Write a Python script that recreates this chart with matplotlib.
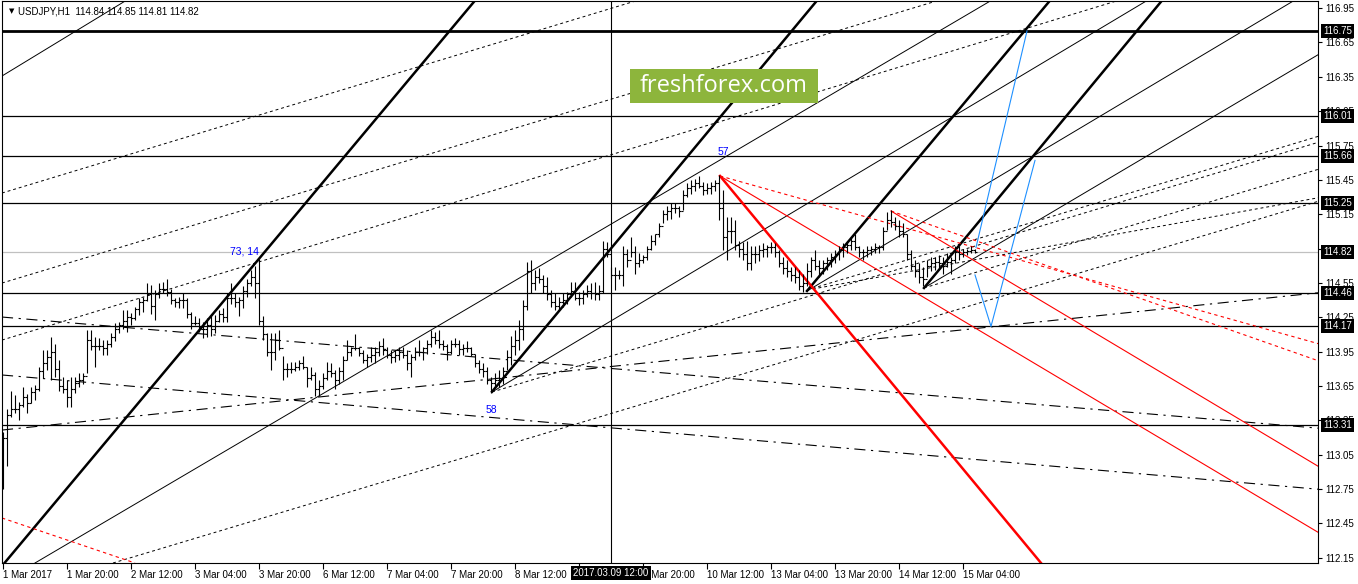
import matplotlib
matplotlib.use("Agg")
import matplotlib.pyplot as plt
import matplotlib.transforms as mtransforms
from matplotlib.patches import Rectangle

plt.rcParams['font.family'] = ['Liberation Sans', 'DejaVu Sans']

# USDJPY H1 bars, bar 0 = 1 Mar 04:00, last bar = 15 Mar 07:00
highs = [
    113.25, 113.45, 113.61, 113.57, 113.51, 113.64, 113.58, 113.64, 113.66, 113.82,
    113.96, 113.96, 114.08, 114.02, 113.88, 113.73, 113.70, 113.73, 113.73, 113.76,
    113.76, 114.14, 114.14, 114.08, 114.07, 114.05, 114.05, 114.11, 114.20, 114.21,
    114.31, 114.31, 114.29, 114.34, 114.42, 114.43, 114.55, 114.53, 114.49, 114.55,
    114.56, 114.58, 114.50, 114.42, 114.43, 114.46, 114.42, 114.30, 114.26, 114.24,
    114.21, 114.24, 114.26, 114.27, 114.31, 114.33, 114.46, 114.55, 114.46, 114.43,
    114.52, 114.58, 114.66, 114.70, 114.76, 114.26, 114.11, 114.11, 114.11, 114.14,
    113.91, 113.85, 113.86, 113.86, 113.88, 113.91, 113.82, 113.82, 113.77, 113.70,
    113.76, 113.86, 113.85, 113.79, 113.82, 113.91, 114.05, 113.99, 114.10, 113.99,
    113.96, 113.93, 113.99, 113.99, 114.04, 114.07, 113.99, 113.96, 113.96, 113.99,
    113.99, 113.96, 113.93, 113.99, 114.05, 113.99, 114.05, 114.14, 114.12, 114.14,
    114.05, 114.02, 114.05, 114.07, 114.05, 114.02, 114.04, 113.99, 113.93, 113.88,
    113.85, 113.82, 113.73, 113.76, 113.79, 113.82, 113.96, 114.09, 114.14, 114.23,
    114.40, 114.73, 114.75, 114.66, 114.68, 114.62, 114.60, 114.49, 114.46, 114.43,
    114.46, 114.47, 114.56, 114.56, 114.47, 114.49, 114.53, 114.55, 114.56, 114.53,
    114.92, 114.91, 114.69, 114.69, 114.66, 114.87, 114.85, 114.95, 114.87, 114.81,
    114.79, 114.87, 114.97, 114.98, 115.07, 115.19, 115.22, 115.25, 115.25, 115.22,
    115.36, 115.42, 115.45, 115.46, 115.48, 115.43, 115.42, 115.43, 115.45, 115.49,
    115.36, 115.13, 115.13, 115.10, 114.92, 114.91, 114.92, 114.87, 114.87, 114.88,
    114.90, 114.88, 114.91, 114.90, 114.84, 114.78, 114.75, 114.69, 114.69, 114.66,
    114.63, 114.72, 114.78, 114.84, 114.75, 114.75, 114.78, 114.81, 114.84, 114.87,
    114.90, 114.92, 114.95, 114.98, 114.87, 114.85, 114.87, 114.87, 114.90, 114.88,
    115.04, 115.17, 115.19, 115.13, 115.10, 115.07, 114.98, 114.84, 114.75, 114.72,
    114.69, 114.75, 114.78, 114.78, 114.79, 114.78, 114.81, 114.78, 114.87, 114.87,
    114.85, 114.85, 114.87, 114.85,
]
lows = [
    112.75, 112.95, 113.38, 113.41, 113.35, 113.47, 113.41, 113.50, 113.53, 113.61,
    113.72, 113.79, 113.70, 113.73, 113.61, 113.59, 113.47, 113.47, 113.59, 113.64,
    113.67, 113.76, 113.96, 113.82, 113.96, 113.92, 113.92, 113.99, 114.04, 114.11,
    114.15, 114.12, 114.18, 114.23, 114.27, 114.30, 114.39, 114.28, 114.23, 114.42,
    114.46, 114.44, 114.37, 114.34, 114.33, 114.33, 114.24, 114.15, 114.18, 114.12,
    114.07, 114.08, 114.09, 114.11, 114.21, 114.21, 114.21, 114.37, 114.34, 114.26,
    114.33, 114.43, 114.52, 114.42, 114.18, 114.05, 113.91, 113.79, 113.88, 113.96,
    113.70, 113.73, 113.76, 113.78, 113.79, 113.80, 113.64, 113.70, 113.56, 113.56,
    113.62, 113.70, 113.73, 113.62, 113.67, 113.70, 113.88, 113.91, 113.96, 113.91,
    113.85, 113.82, 113.86, 113.85, 113.91, 113.92, 113.89, 113.85, 113.86, 113.88,
    113.89, 113.79, 113.73, 113.88, 113.91, 113.88, 113.93, 113.99, 114.02, 113.98,
    113.96, 113.88, 113.93, 113.99, 113.92, 113.92, 113.95, 113.91, 113.82, 113.76,
    113.73, 113.67, 113.59, 113.64, 113.64, 113.67, 113.79, 113.83, 113.92, 113.96,
    114.05, 114.31, 114.46, 114.49, 114.55, 114.46, 114.40, 114.34, 114.31, 114.31,
    114.34, 114.37, 114.43, 114.40, 114.36, 114.37, 114.43, 114.41, 114.40, 114.40,
    114.46, 114.78, 114.58, 114.49, 114.58, 114.52, 114.69, 114.78, 114.63, 114.69,
    114.72, 114.75, 114.84, 114.88, 114.95, 115.07, 115.10, 115.11, 115.16, 115.13,
    115.19, 115.30, 115.33, 115.35, 115.38, 115.32, 115.33, 115.33, 115.35, 115.10,
    114.84, 114.75, 114.90, 114.84, 114.78, 114.75, 114.66, 114.66, 114.72, 114.74,
    114.78, 114.78, 114.81, 114.78, 114.69, 114.63, 114.60, 114.57, 114.55, 114.49,
    114.47, 114.52, 114.60, 114.66, 114.60, 114.63, 114.66, 114.69, 114.72, 114.75,
    114.78, 114.81, 114.84, 114.84, 114.78, 114.75, 114.78, 114.79, 114.81, 114.81,
    114.84, 115.01, 115.04, 115.01, 114.95, 114.95, 114.75, 114.66, 114.60, 114.55,
    114.52, 114.60, 114.65, 114.66, 114.68, 114.63, 114.69, 114.63, 114.72, 114.75,
    114.78, 114.79, 114.81, 114.81,
]
closes = [
    113.20, 113.40, 113.45, 113.45, 113.48, 113.55, 113.50, 113.60, 113.62, 113.78,
    113.85, 113.90, 113.95, 113.80, 113.65, 113.62, 113.55, 113.62, 113.68, 113.70,
    113.74, 114.05, 114.00, 114.00, 114.00, 113.98, 114.02, 114.08, 114.15, 114.18,
    114.22, 114.25, 114.24, 114.32, 114.38, 114.40, 114.45, 114.35, 114.45, 114.50,
    114.50, 114.47, 114.40, 114.38, 114.40, 114.40, 114.28, 114.20, 114.20, 114.15,
    114.15, 114.18, 114.15, 114.22, 114.28, 114.25, 114.42, 114.42, 114.38, 114.40,
    114.48, 114.55, 114.60, 114.55, 114.22, 114.10, 113.95, 113.95, 114.05, 113.98,
    113.80, 113.80, 113.80, 113.82, 113.85, 113.82, 113.72, 113.75, 113.62, 113.65,
    113.72, 113.78, 113.76, 113.70, 113.78, 113.88, 113.95, 113.98, 113.98, 113.94,
    113.88, 113.90, 113.92, 113.95, 114.00, 113.96, 113.92, 113.90, 113.92, 113.95,
    113.92, 113.85, 113.90, 113.95, 113.95, 113.98, 114.02, 114.08, 114.05, 114.02,
    114.00, 113.95, 114.02, 114.02, 113.97, 113.98, 113.98, 113.93, 113.85, 113.80,
    113.78, 113.70, 113.68, 113.70, 113.72, 113.78, 113.90, 114.00, 114.05, 114.15,
    114.35, 114.65, 114.55, 114.60, 114.58, 114.52, 114.45, 114.38, 114.35, 114.38,
    114.40, 114.45, 114.48, 114.42, 114.42, 114.45, 114.48, 114.46, 114.45, 114.48,
    114.85, 114.80, 114.62, 114.62, 114.62, 114.80, 114.75, 114.82, 114.72, 114.75,
    114.78, 114.85, 114.92, 114.98, 115.05, 115.15, 115.18, 115.20, 115.20, 115.18,
    115.32, 115.38, 115.40, 115.42, 115.40, 115.36, 115.38, 115.40, 115.42, 115.20,
    114.95, 115.00, 115.00, 114.88, 114.85, 114.80, 114.72, 114.80, 114.80, 114.84,
    114.85, 114.86, 114.86, 114.82, 114.72, 114.68, 114.65, 114.62, 114.60, 114.52,
    114.55, 114.65, 114.75, 114.70, 114.68, 114.72, 114.75, 114.78, 114.80, 114.84,
    114.86, 114.88, 114.92, 114.86, 114.82, 114.82, 114.84, 114.85, 114.86, 114.86,
    115.00, 115.10, 115.08, 115.05, 115.00, 114.98, 114.80, 114.70, 114.65, 114.60,
    114.58, 114.70, 114.72, 114.73, 114.72, 114.70, 114.73, 114.75, 114.82, 114.80,
    114.82, 114.83, 114.84, 114.82,
]
first_open = 113.00
opens = [first_open] + closes[:-1]

x_tick_bars = list(range(0, 241, 16))
x_tick_labels = ["1 Mar 2017", "1 Mar 20:00", "2 Mar 12:00", "3 Mar 04:00", "3 Mar 20:00",
                 "6 Mar 12:00", "7 Mar 04:00", "7 Mar 20:00", "8 Mar 12:00", "9 Mar 04:00",
                 "9 Mar 20:00", "10 Mar 12:00", "13 Mar 04:00", "13 Mar 20:00",
                 "14 Mar 12:00", "15 Mar 04:00"]
y_ticks = [112.15, 112.45, 112.75, 113.05, 113.35, 113.65, 113.95, 114.25, 114.55,
           114.85, 115.15, 115.45, 115.75, 116.05, 116.35, 116.65, 116.95]

levels = [116.75, 116.01, 115.66, 115.25, 114.46, 114.17, 113.31]
last_price = 114.82
cursor_bar = 152
cursor_label = "2017.03.09 12:00"

# drawing objects, anchors as (bar, price)
thick_lines = [((0.375, 112.104), (117.5, 116.995))]
thick_rays = [((122.25, 113.60), (203.0, 116.995)),
              ((201.0, 114.48), (261.25, 116.995)),
              ((230.25, 114.506), (289.25, 116.995))]
thin_lines = [((-0.25, 116.357), (29.75, 116.995)),
              ((8.0, 112.104), (246.0, 116.995))]
thin_rays = [((122.25, 113.597), (285.0, 116.995)),
             ((201.0, 114.479), (321.75, 116.995)),
             ((230.25, 114.506), (328.25, 116.532))]
dot_lines = [((-0.25, 115.335), (156.5, 116.995)),
             ((-0.25, 114.549), (231.75, 116.995)),
             ((-0.25, 114.051), (276.75, 116.995)),
             ((27.5, 112.104), (328.25, 115.257))]
dot_rays = [((122.25, 113.597), (328.25, 115.772)),
            ((201.0, 114.488), (328.25, 115.824)),
            ((201.0, 114.488), (328.25, 115.29)),
            ((230.25, 114.506), (328.25, 115.536))]
dashdot_lines = [((-0.25, 113.265), (328.25, 114.462)),
                 ((-0.25, 114.252), (328.25, 113.283)),
                 ((-0.25, 113.746), (328.25, 112.750))]
red_thick = [((179.25, 115.484), (259.5, 112.104))]
red_rays = [((179.25, 115.484), (328.25, 112.383)),
            ((222.0, 115.178), (328.25, 112.960))]
red_dot_rays = [((179.25, 115.484), (328.25, 114.025)),
                ((222.0, 115.178), (328.25, 113.877))]
red_dot_lines = [((-0.25, 112.497), (33.0, 112.104))]
blue_paths = [[(243.25, 114.86), (256.0, 116.75)],
              [(243.0, 114.62), (247.0, 114.17), (258.0, 115.62)]]
marks = [("57", 180.0, 115.69), ("73, 14", 60.3, 114.82), ("58", 122.0, 113.44)]

W, H = 1358, 584
fig = plt.figure(figsize=(W / 100, H / 100), dpi=100)
fig.patch.set_facecolor('white')
ax = fig.add_axes([2 / W, 21 / H, 1316 / W, 562 / H])
ax.set_xlim(-0.25, 328.75)
ax.set_ylim(112.104, 117.012)


def ray(p0, p1, **kw):
    (b0, v0), (b1, v1) = p0, p1
    ax.plot([b0, b0 + (b1 - b0) * 20], [v0, v0 + (v1 - v0) * 20], **kw)


# horizontal levels and cursor
for lv in levels:
    ax.axhline(lv, color='black', lw=2.0 if lv == 116.75 else 0.9, zorder=1)
ax.axhline(last_price, color='#c0c0c0', lw=0.9, zorder=1)
ax.axvline(cursor_bar, color='black', lw=0.8, zorder=1)

# black drawing tools
for p0, p1 in thick_lines:
    ax.axline(p0, p1, color='black', lw=1.8, zorder=2)
for p0, p1 in thick_rays:
    ray(p0, p1, color='black', lw=1.8, zorder=2)
for p0, p1 in thin_lines:
    ax.axline(p0, p1, color='black', lw=0.7, zorder=2)
for p0, p1 in thin_rays:
    ray(p0, p1, color='black', lw=0.7, zorder=2)
for p0, p1 in dot_lines:
    ax.axline(p0, p1, color='black', lw=0.7, dashes=(3, 3), zorder=2)
for p0, p1 in dot_rays:
    ray(p0, p1, color='black', lw=0.7, dashes=(3, 3), zorder=2)
for p0, p1 in dashdot_lines:
    ax.axline(p0, p1, color='black', lw=0.8, dashes=(10, 5, 2, 5), zorder=2)

# red drawing tools
for p0, p1 in red_thick:
    ray(p0, p1, color='#ff0000', lw=1.8, zorder=2)
for p0, p1 in red_rays:
    ray(p0, p1, color='#ff0000', lw=0.8, zorder=2)
for p0, p1 in red_dot_rays:
    ray(p0, p1, color='#ff0000', lw=0.8, dashes=(3, 3), zorder=2)
for p0, p1 in red_dot_lines:
    ax.axline(p0, p1, color='#ff0000', lw=0.8, dashes=(3, 3), zorder=2)

for path in blue_paths:
    ax.plot([p[0] for p in path], [p[1] for p in path], color='#1e90ff', lw=0.8, zorder=3)

# price bars
idx = list(range(len(highs)))
ax.vlines(idx, lows, highs, color='black', lw=0.8, zorder=4)
ax.hlines(opens, [i - 0.4 for i in idx], idx, color='black', lw=0.8, zorder=4)
ax.hlines(closes, idx, [i + 0.4 for i in idx], color='black', lw=0.8, zorder=4)

for txt, bx, py in marks:
    ax.text(bx, py, txt, color='#0000ff', fontsize=7.5, ha='center', va='center', zorder=5)

# axes look
for s in ax.spines.values():
    s.set_color('black')
    s.set_linewidth(0.8)
ax.yaxis.tick_right()
ax.set_yticks(y_ticks)
ax.set_yticklabels([f"{v:.2f}" for v in y_ticks])
ax.tick_params(axis='y', direction='out', length=3, width=0.8, labelsize=7, pad=2)
ax.set_xticks(x_tick_bars)
ax.set_xticklabels(x_tick_labels)
ax.tick_params(axis='x', direction='out', length=4, width=0.8, labelsize=7, pad=1)
for lab in ax.get_xticklabels():
    lab.set_horizontalalignment('left')

ytrans = mtransforms.blended_transform_factory(ax.transAxes, ax.transData)
for lv in levels + [last_price]:
    ax.text(1 + 5 / 1316, lv, f"{lv:.2f}", transform=ytrans, ha='left', va='center',
            fontsize=7, color='white', clip_on=False, zorder=10,
            bbox=dict(boxstyle='square,pad=0.2', fc='black', ec='none'))

xtrans = mtransforms.blended_transform_factory(ax.transData, ax.transAxes)
ax.text(cursor_bar, -10 / 562, cursor_label, transform=xtrans, ha='center', va='center',
        fontsize=7, color='white', clip_on=False, zorder=10,
        bbox=dict(boxstyle='square,pad=0.25', fc='black', ec='none'))

# header and watermark
fig.text(9 / W, 1 - 11 / H, "\u25bc", fontsize=5, va='center', ha='left', family='DejaVu Sans')
fig.text(18 / W, 1 - 11 / H, "USDJPY,H1  114.84 114.85 114.81 114.82", fontsize=7,
         va='center', ha='left')
fig.add_artist(Rectangle((630 / W, 1 - 103 / H), 188 / W, 34 / H, transform=fig.transFigure,
                         facecolor='#8db53c', edgecolor='none', zorder=20))
fig.text(724 / W, 1 - 86 / H, "freshforex.com", fontsize=17, color='white', ha='center',
         va='center', family='Open Sans', zorder=21)

fig.savefig('out.png', dpi=100)
